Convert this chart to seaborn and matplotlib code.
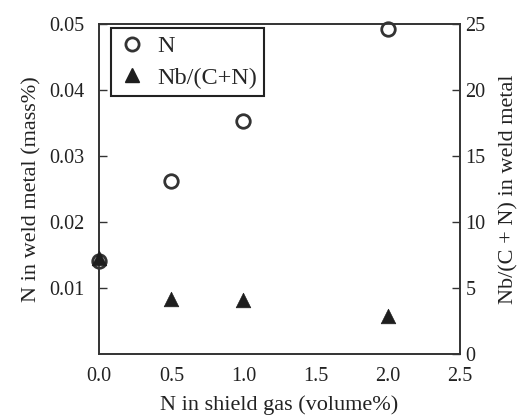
import matplotlib
matplotlib.use("Agg")
import matplotlib.pyplot as plt
import seaborn as sns
import pandas as pd
from matplotlib.lines import Line2D

sns.set_style("white")
plt.rcParams['font.family'] = ['Liberation Serif', 'DejaVu Serif']
plt.rcParams['mathtext.fontset'] = 'stix'

# Data
n_gas = [0.0, 0.5, 1.0, 2.0]
n_weld = [0.0141, 0.0262, 0.0353, 0.0492]
nb_ratio = [7.3, 4.2, 4.1, 2.9]

x_ticks = [0.0, 0.5, 1.0, 1.5, 2.0, 2.5]
y_left_ticks = [0.01, 0.02, 0.03, 0.04, 0.05]
y_right_ticks = [0, 5, 10, 15, 20, 25]

df = pd.DataFrame({"gas": n_gas, "N": n_weld, "ratio": nb_ratio})

fs_tick = 14.5
fs_label = 16
fs_leg = 17.5
fig = plt.figure(figsize=(5.22, 4.16), dpi=100)
ax = fig.add_axes([0.19, 0.149, 0.691, 0.793])
ax2 = ax.twinx()

sns.scatterplot(data=df, x="gas", y="N", ax=ax, marker="o", s=95,
                facecolor="white", edgecolor="#333333", linewidth=2.0,
                clip_on=False, zorder=3)
sns.scatterplot(data=df, x="gas", y="ratio", ax=ax2, marker="^", s=110,
                color="#1e1e1e", edgecolor="#1e1e1e", linewidth=0.5,
                clip_on=False, zorder=4)

ax.set_xlim(0, 2.5)
ax.set_ylim(0, 0.05)
ax2.set_ylim(0, 25)
ax.set_xticks(x_ticks)
ax.set_xticklabels([f"{v:.1f}" for v in x_ticks])
ax.set_yticks(y_left_ticks)
ax.set_yticklabels([f"{v:.2f}" for v in y_left_ticks])
ax2.set_yticks(y_right_ticks)
ax2.set_yticklabels([str(v) for v in y_right_ticks])

for a in (ax, ax2):
    a.tick_params(direction="in", length=6, width=1.0, color="#333333",
                  labelsize=fs_tick, labelcolor="#222222")
    for sp in a.spines.values():
        sp.set_color("#333333")
        sp.set_linewidth(1.2)
ax.tick_params(axis="x", pad=9)
ax.tick_params(axis="y", right=False, pad=10.5)
ax2.tick_params(axis="y", left=False, pad=4)

ax.set_xlabel("N in shield gas (volume%)", fontsize=fs_label, color="#222222", labelpad=7)
ax.set_ylabel("N in weld metal (mass%)", fontsize=fs_label, color="#222222", labelpad=6)
ax2.set_ylabel("Nb/(C + N) in weld metal", fontsize=fs_label, color="#222222", labelpad=10)

handles = [
    Line2D([], [], linestyle="none", marker="o", markersize=9.5,
           markerfacecolor="white", markeredgecolor="#333333", markeredgewidth=2.0),
    Line2D([], [], linestyle="none", marker="^", markersize=10.5,
           markerfacecolor="#1e1e1e", markeredgecolor="#1e1e1e"),
]
leg = ax2.legend(handles, ["N", "Nb/(C+N)"], loc="upper left",
                 bbox_to_anchor=(0.033, 0.988), borderaxespad=0,
                 fontsize=fs_leg, frameon=True,
                 fancybox=False, edgecolor="#222222", framealpha=1,
                 handletextpad=0.5, borderpad=0.3, labelspacing=0.38,
                 handlelength=1.1)
leg.get_frame().set_linewidth(1.5)

fig.savefig("out.png", dpi=100)
